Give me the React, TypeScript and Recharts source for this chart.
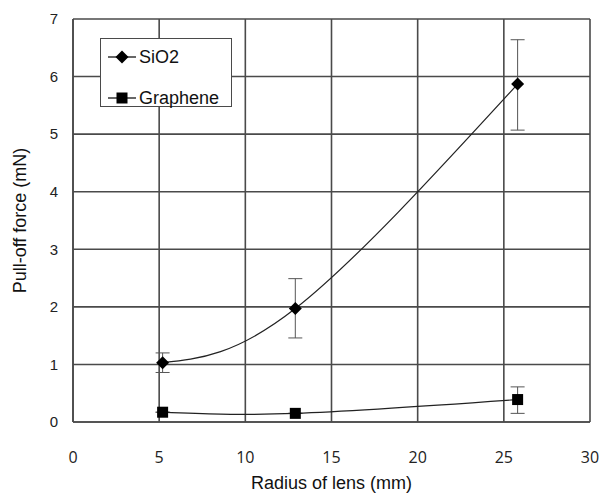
import React from 'react';
import {
  ComposedChart,
  Line,
  XAxis,
  YAxis,
  CartesianGrid,
  ErrorBar,
  Legend,
} from 'recharts';

const radius = [5.2, 12.9, 25.8];
const sio2 = [1.03, 1.97, 5.87];
const sio2Err = [
  [0.17, 0.17],
  [0.51, 0.52],
  [0.8, 0.77],
];
const graphene = [0.17, 0.15, 0.39];
const grapheneErr = [
  [0, 0],
  [0, 0],
  [0.24, 0.22],
];
const xTicks = [0, 5, 10, 15, 20, 25, 30];
const yTicks = [0, 1, 2, 3, 4, 5, 6, 7];
const seriesNames = ['SiO2', 'Graphene'];

const data = radius.map((r, i) => ({
  radius: r,
  sio2: sio2[i],
  sio2Err: sio2Err[i],
  graphene: graphene[i],
  grapheneErr: grapheneErr[i],
}));

const GRID = '#4a4a4a';
const SANS = '"Liberation Sans", Arial, sans-serif';

const Diamond = (props: any) => {
  const { cx, cy } = props;
  if (cx == null || cy == null) return null;
  const s = 6.5;
  return (
    <polygon
      points={`${cx},${cy - s} ${cx + s},${cy} ${cx},${cy + s} ${cx - s},${cy}`}
      fill="#000"
    />
  );
};

const Square = (props: any) => {
  const { cx, cy } = props;
  if (cx == null || cy == null) return null;
  const s = 5.5;
  return <rect x={cx - s} y={cy - s} width={2 * s} height={2 * s} fill="#000" />;
};

const LegendBox = () => (
  <div
    style={{
      position: 'relative',
      width: 132,
      height: 69,
      boxSizing: 'border-box',
      border: `1.5px solid ${GRID}`,
      background: '#fff',
      fontFamily: SANS,
      fontSize: 18,
      color: '#111',
    }}
  >
    {seriesNames.map((name, i) => (
      <div
        key={name}
        style={{
          position: 'absolute',
          left: 7,
          top: i === 0 ? 8 : 49,
          height: 20,
          lineHeight: '20px',
          display: 'flex',
          alignItems: 'center',
          whiteSpace: 'nowrap',
        }}
      >
        <svg width={28} height={20} style={{ marginRight: 3 }}>
          <line x1={0} y1={10} x2={28} y2={10} stroke="#000" strokeWidth={1.2} />
          {i === 0 ? <Diamond cx={14} cy={10} /> : <Square cx={14} cy={10} />}
        </svg>
        <span>{name}</span>
      </div>
    ))}
  </div>
);

const YTitle = (props: any) => {
  const { viewBox } = props;
  const x = viewBox.x + 20;
  const y = viewBox.y + viewBox.height / 2;
  return (
    <text
      x={x}
      y={y}
      transform={`rotate(-90, ${x}, ${y})`}
      textAnchor="middle"
      dominantBaseline="central"
      fontFamily={SANS}
      fontSize={18}
      fill="#111"
    >
      Pull-off force (mN)
    </text>
  );
};

export default function App() {
  return (
    <div style={{ position: 'absolute', left: 0, top: 0 }}>
      <ComposedChart
        width={602}
        height={495}
        data={data}
        margin={{ top: 19, right: 12, left: 0, bottom: 0 }}
      >
        <CartesianGrid stroke={GRID} strokeWidth={1.6} />
        <XAxis
          type="number"
          dataKey="radius"
          domain={[0, 30]}
          ticks={xTicks}
          height={73}
          tickLine={false}
          axisLine={{ stroke: GRID, strokeWidth: 1.6 }}
          tickSize={0}
          tickMargin={30}
          tick={{ fontFamily: '"Open Sans", sans-serif', fontSize: 16, fill: '#222' }}
          label={{
            value: 'Radius of lens (mm)',
            position: 'insideBottom',
            offset: 6,
            style: { fontFamily: SANS, fontSize: 18, fill: '#111' },
          }}
        />
        <YAxis
          type="number"
          domain={[0, 7]}
          ticks={yTicks}
          width={73}
          tickLine={false}
          axisLine={{ stroke: GRID, strokeWidth: 1.6 }}
          tickSize={0}
          tickMargin={15}
          tick={{ fontFamily: SANS, fontSize: 15, fill: '#222' }}
          label={<YTitle />}
        />
        <Legend
          layout="vertical"
          align="center"
          verticalAlign="middle"
          content={() => <LegendBox />}
          wrapperStyle={{ left: 100, top: 38, width: 132, height: 69 }}
        />
        <Line
          type="natural"
          dataKey="sio2"
          name="SiO2"
          stroke="#222"
          strokeWidth={1.2}
          dot={<Diamond />}
          activeDot={false}
          isAnimationActive={false}
        >
          <ErrorBar dataKey="sio2Err" direction="y" width={7} stroke="#555" strokeWidth={1} />
        </Line>
        <Line
          type="natural"
          dataKey="graphene"
          name="Graphene"
          stroke="#222"
          strokeWidth={1.2}
          dot={<Square />}
          activeDot={false}
          isAnimationActive={false}
        >
          <ErrorBar dataKey="grapheneErr" direction="y" width={7} stroke="#555" strokeWidth={1} />
        </Line>
      </ComposedChart>
    </div>
  );
}
